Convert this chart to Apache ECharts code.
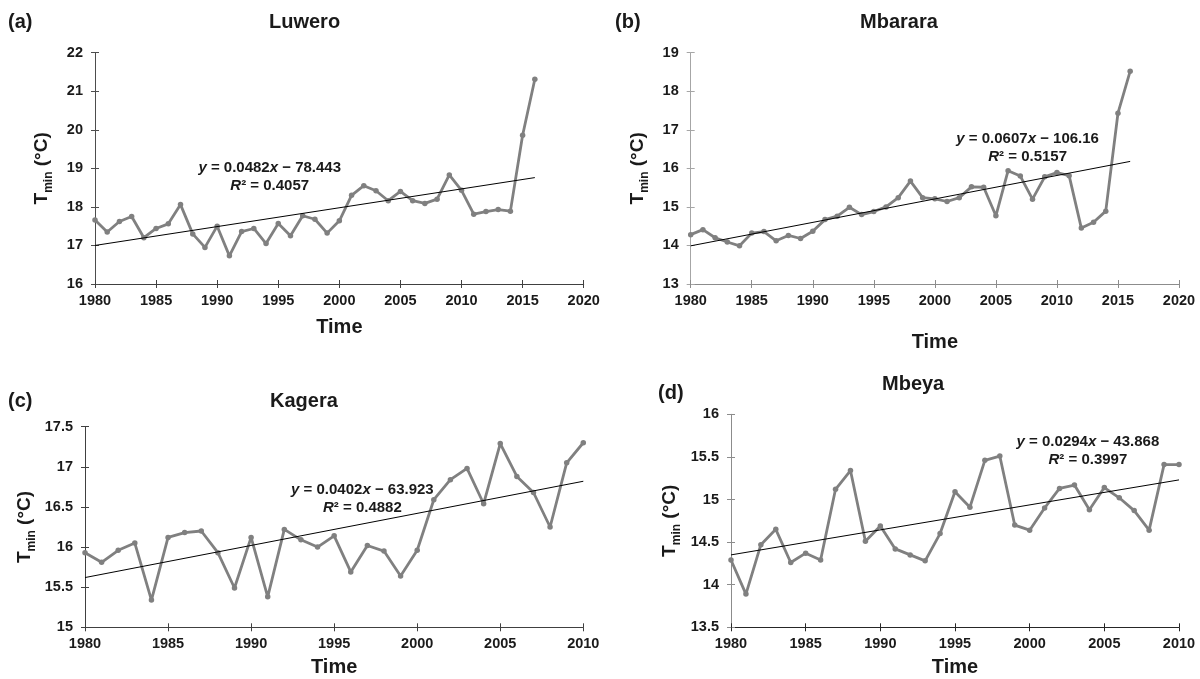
<!DOCTYPE html>
<html><head><meta charset="utf-8">
<script src="https://cdn.jsdelivr.net/npm/echarts@6/dist/echarts.min.js"></script>
<style>html,body{margin:0;padding:0;background:#fff}#c{width:1200px;height:679px}</style>
</head><body><div id="c"></div>
<script>
const FONT = '"Liberation Sans", Arial, Helvetica, sans-serif';
// ---- data ----
const yearsLong = [1980,1981,1982,1983,1984,1985,1986,1987,1988,1989,1990,1991,1992,1993,1994,1995,1996,1997,1998,1999,2000,2001,2002,2003,2004,2005,2006,2007,2008,2009,2010,2011,2012,2013,2014,2015,2016];
const yearsShort = [1980,1981,1982,1983,1984,1985,1986,1987,1988,1989,1990,1991,1992,1993,1994,1995,1996,1997,1998,1999,2000,2001,2002,2003,2004,2005,2006,2007,2008,2009,2010];
const luwero = [17.66,17.35,17.62,17.75,17.20,17.44,17.56,18.06,17.30,16.95,17.50,16.73,17.36,17.44,17.05,17.57,17.25,17.77,17.68,17.32,17.64,18.30,18.55,18.42,18.16,18.40,18.16,18.09,18.20,18.83,18.43,17.81,17.88,17.93,17.89,19.86,21.31];
const mbarara = [14.28,14.41,14.20,14.09,13.99,14.32,14.36,14.12,14.26,14.18,14.37,14.67,14.76,14.99,14.80,14.88,15.00,15.24,15.67,15.24,15.21,15.14,15.24,15.52,15.51,14.77,15.94,15.80,15.20,15.78,15.89,15.81,14.45,14.60,14.89,17.43,18.52];
const kagera = [15.93,15.81,15.96,16.05,15.34,16.12,16.18,16.20,15.93,15.49,16.12,15.38,16.22,16.09,16.00,16.14,15.69,16.02,15.95,15.64,15.96,16.59,16.84,16.98,16.54,17.29,16.88,16.68,16.25,17.05,17.30];
const mbeya = [14.29,13.89,14.47,14.65,14.26,14.37,14.29,15.12,15.34,14.51,14.69,14.42,14.35,14.28,14.60,15.09,14.91,15.46,15.51,14.70,14.64,14.90,15.13,15.17,14.88,15.14,15.02,14.87,14.64,15.41,15.41];
// trend line endpoints [start, end]
const trendYearsLong = [1980, 2016];
const trendYearsShort = [1980, 2010];
const trendA = [17.00, 18.76];
const trendB = [13.99, 16.18];
const trendC = [15.62, 16.82];
const trendD = [14.35, 15.23];
// equations
const eqSlope = ['0.0482','0.0607','0.0402','0.0294'];
const eqIntercept = ['78.443','106.16','63.923','43.868'];
const eqR2 = ['0.4057','0.5157','0.4882','0.3997'];
const eqAnchor = [[1994.3, 18.78],[2007.6, 16.53],[1996.7, 16.60],[2003.9, 15.57]];
const titles = ['Luwero','Mbarara','Kagera','Mbeya'];
const letters = ['(a)','(b)','(c)','(d)'];
// axis ranges
const xRanges = [[1980,2020],[1980,2020],[1980,2010],[1980,2010]];
const yRanges = [[16,22,1],[13,19,1],[15,17.5,0.5],[13.5,16,0.5]];

// ---- layout ----
const grids = [
  {left:95, top:52.7, right:616.3, bottom:395},
  {left:690.7, top:52.7, right:21, bottom:395},
  {left:85, top:426.7, right:616.7, bottom:51.7},
  {left:731, top:414.3, right:21, bottom:51.7}
];
const yAxisColor = ['#4d4d4d','#a6a6a6','#404040','#8c8c8c'];
const xAxisColor = ['#404040','#8c8c8c','#404040','#262626'];
const timeGap = [33, 48, 30, 30];
const yNameGap = [40, 40, 47, 48];

const pair = (xs, ys) => xs.map((x, i) => [x, ys[i]]);
const seriesData = [pair(yearsLong, luwero), pair(yearsLong, mbarara), pair(yearsShort, kagera), pair(yearsShort, mbeya)];
const trendData = [pair(trendYearsLong, trendA), pair(trendYearsLong, trendB), pair(trendYearsShort, trendC), pair(trendYearsShort, trendD)];

const xAxes = [], yAxes = [], series = [];
const tickLabel = {fontFamily: FONT, fontWeight: 'bold', fontSize: 14.5, color: '#1a1a1a', formatter: v => String(v)};
for (let i = 0; i < 4; i++) {
  xAxes.push({
    type:'value', gridIndex:i, position:'bottom', min:xRanges[i][0], max:xRanges[i][1], interval:5,
    splitLine:{show:false},
    axisLine:{show:true, onZero:false, lineStyle:{color:xAxisColor[i], width:1}},
    axisTick:{show:true, length:4, lineStyle:{color:xAxisColor[i]}},
    axisLabel:Object.assign({margin:9}, tickLabel),
    name:'Time', nameLocation:'middle', nameGap:timeGap[i],
    nameTextStyle:{fontFamily:FONT, fontWeight:'bold', fontSize:20, color:'#1a1a1a'}
  });
  yAxes.push({
    type:'value', gridIndex:i, position:'left', min:yRanges[i][0], max:yRanges[i][1], interval:yRanges[i][2],
    splitLine:{show:false},
    axisLine:{show:true, onZero:false, lineStyle:{color:yAxisColor[i], width:1}},
    axisTick:{show:true, length:4, lineStyle:{color:yAxisColor[i]}},
    axisLabel:Object.assign({margin:12}, tickLabel),
    name:'{t|T}{s|min}{t| (°C)}', nameLocation:'middle', nameRotate:90, nameGap:yNameGap[i],
    nameTextStyle:{
      rich:{
        t:{fontFamily:FONT, fontWeight:'bold', fontSize:19, color:'#1a1a1a', lineHeight:26},
        s:{fontFamily:FONT, fontWeight:'bold', fontSize:12, color:'#1a1a1a', verticalAlign:'bottom'}
      }
    }
  });
}
// overlay axes for inside ticks (cross tick marks)
for (let i = 0; i < 4; i++) {
  xAxes.push({
    type:'value', gridIndex:i, position:'bottom', min:xRanges[i][0], max:xRanges[i][1], interval:5,
    splitLine:{show:false}, axisLine:{show:false, onZero:false}, axisLabel:{show:false},
    axisTick:{show:true, inside:true, length:4, lineStyle:{color:xAxisColor[i]}}
  });
  yAxes.push({
    type:'value', gridIndex:i, position:'left', min:yRanges[i][0], max:yRanges[i][1], interval:yRanges[i][2],
    splitLine:{show:false}, axisLine:{show:false, onZero:false}, axisLabel:{show:false},
    axisTick:{show:true, inside:true, length:4, lineStyle:{color:yAxisColor[i]}}
  });
}
const eqRich = {
  i:{fontFamily:FONT, fontWeight:'bold', fontStyle:'italic', fontSize:15, color:'#1a1a1a', lineHeight:18},
  n:{fontFamily:FONT, fontWeight:'bold', fontSize:15, color:'#1a1a1a', lineHeight:18}
};
for (let i = 0; i < 4; i++) {
  series.push({
    type:'line', xAxisIndex:i, yAxisIndex:i, data:seriesData[i],
    symbol:'circle', symbolSize:5.5, showSymbol:true,
    lineStyle:{color:'#808080', width:2.8}, itemStyle:{color:'#808080'},
    z:3, animation:false
  });
  series.push({
    type:'line', xAxisIndex:i, yAxisIndex:i, data:trendData[i],
    symbol:'none', lineStyle:{color:'#000', width:1}, z:4, animation:false,
    markPoint:{
      symbol:'circle', symbolSize:0, animation:false,
      data:[{coord:eqAnchor[i], value:0}],
      label:{
        show:true, position:'inside', align:'center', verticalAlign:'middle',
        formatter:'{i|y}{n| = ' + eqSlope[i] + '}{i|x}{n| − ' + eqIntercept[i] + '}\n{i|R}{n|² = ' + eqR2[i] + '}',
        rich:eqRich
      }
    }
  });
}
const titlePos = [[269, 23],[860, 23],[270, 402],[882, 385]];
const letterPos = [[8, 23],[615, 23],[8, 402],[658, 394]];
const graphics = [];
for (let i = 0; i < 4; i++) {
  graphics.push({type:'text', left:titlePos[i][0], top:titlePos[i][1]-11,
    style:{text:titles[i], font:'bold 20px ' + FONT, fill:'#1a1a1a'}});
  graphics.push({type:'text', left:letterPos[i][0], top:letterPos[i][1]-11,
    style:{text:letters[i], font:'bold 20px ' + FONT, fill:'#1a1a1a'}});
}
const chart = echarts.init(document.getElementById('c'), null, {renderer:'canvas'});
chart.setOption({
  animation:false, backgroundColor:'#fff',
  grid:grids, xAxis:xAxes, yAxis:yAxes, series:series, graphic:graphics
});
</script></body></html>
